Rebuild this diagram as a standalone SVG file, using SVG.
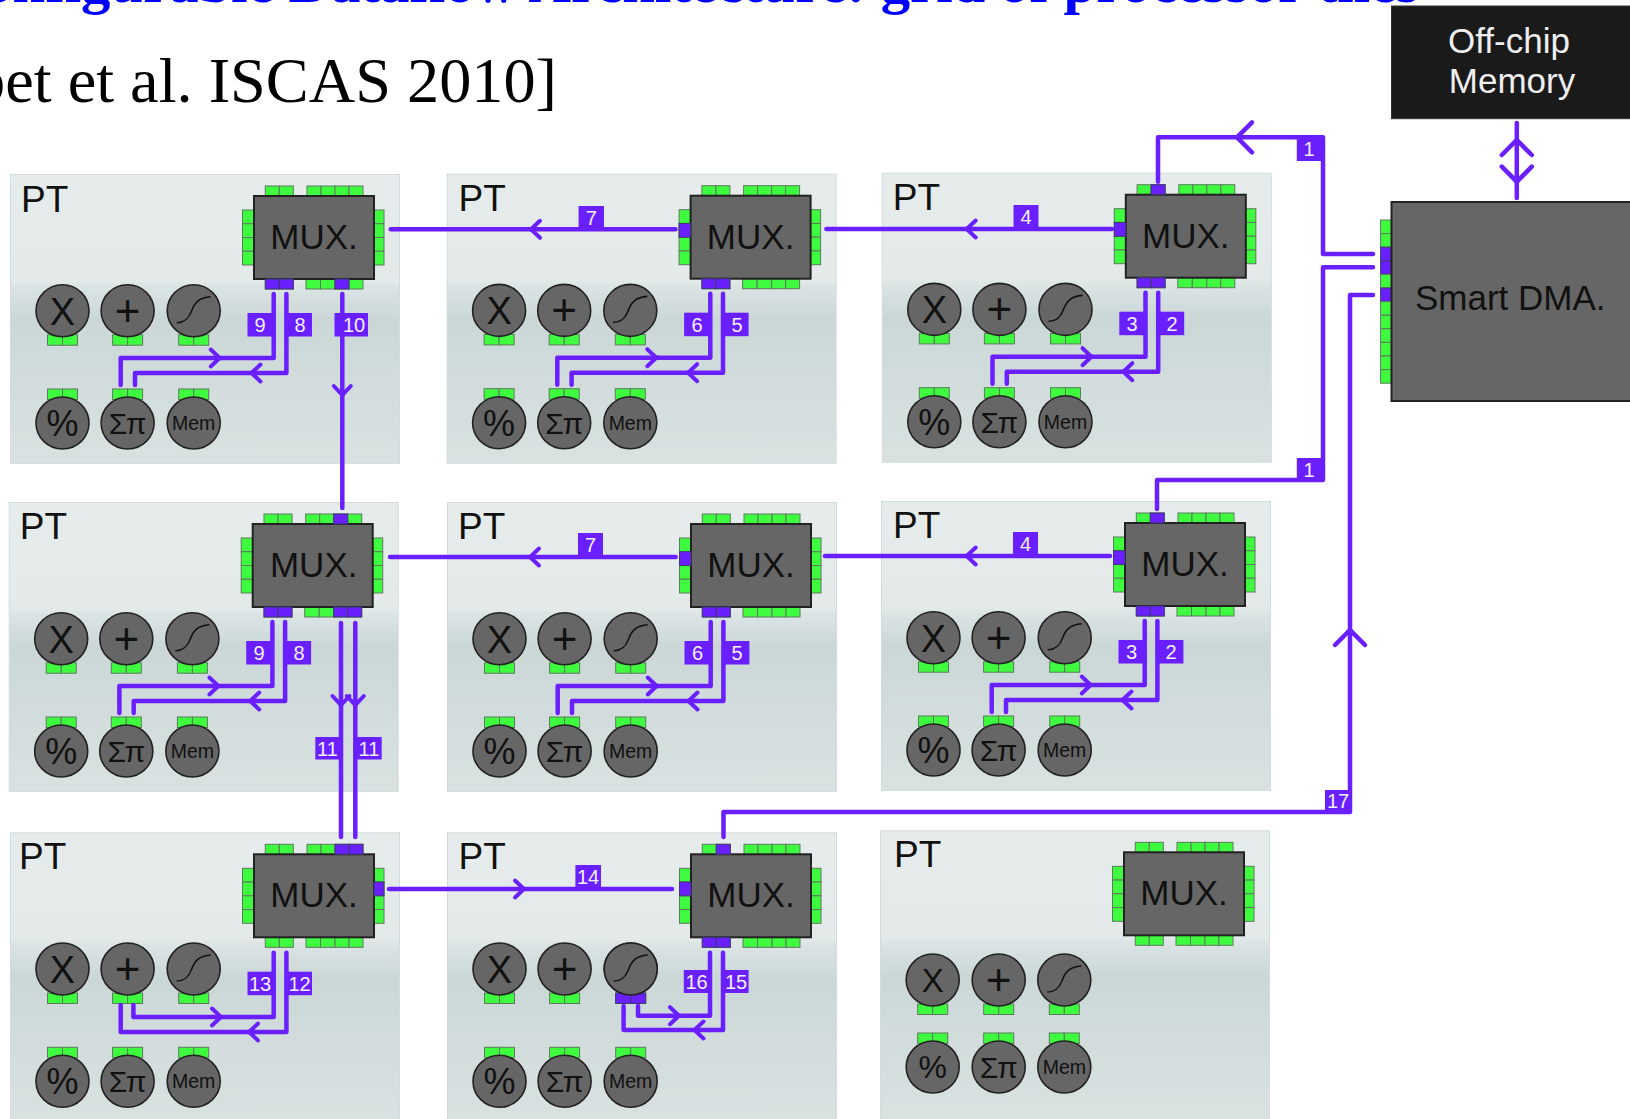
<svg xmlns="http://www.w3.org/2000/svg" width="1630" height="1119" viewBox="0 0 1630 1119">
<style>
text{font-family:"Liberation Sans",Arial,sans-serif}
.ttl{font-family:"Liberation Serif","Times New Roman",serif}
.panel{fill:url(#pg);stroke:#d3dcdc;stroke-width:1}
.block{fill:#666;stroke:#222;stroke-width:2}
.g{fill:#3ffb3f;stroke:#5c7a5c;stroke-width:1}
.p{fill:#6a1fff;stroke:#3d3a6e;stroke-width:1}
.op{fill:#666;stroke:#222;stroke-width:1.6}
.sig{fill:none;stroke:#111;stroke-width:1.6}
.c{text-anchor:middle;fill:#111}
.pt{font-size:37px;fill:#111}
.mx{font-size:35px;text-anchor:middle;fill:#111}
.o{font-size:38px}
.pc{font-size:36px}
.pl{font-size:44px}
.sg{font-size:30px}
.me{font-size:19.5px}
.w{fill:none;stroke:#6a1fff;stroke-width:4.5;stroke-linecap:round;stroke-linejoin:round}
.a{marker-end:url(#chev)}
.b{marker-end:url(#chevbig)}
.lb{fill:#6a1fff}
.lt{font-size:20px;fill:#f4f0ff;text-anchor:middle}
</style>
<defs>
<linearGradient id="pg" x1="0" y1="0" x2="0" y2="1">
<stop offset="0" stop-color="#e6ecec"/><stop offset="0.37" stop-color="#e4eaea"/><stop offset="0.38" stop-color="#dde5e5"/><stop offset="0.5" stop-color="#cbd7d7"/><stop offset="1" stop-color="#d9e2e1"/>
</linearGradient>
<marker id="chev" viewBox="-14 -12 17 24" refX="0" refY="0" markerWidth="17" markerHeight="24" orient="auto" markerUnits="userSpaceOnUse"><path d="M-9 -8.5L0 0L-9 8.5" fill="none" stroke="#6a1fff" stroke-width="4" stroke-linecap="round"/></marker>
<marker id="chevbig" viewBox="-20 -20 24 40" refX="0" refY="0" markerWidth="24" markerHeight="40" orient="auto" markerUnits="userSpaceOnUse"><path d="M-15 -15L0 0L-15 15" fill="none" stroke="#6a1fff" stroke-width="4.5" stroke-linecap="round"/></marker>
<g id="frame">
<rect class="panel" x="-243.5" y="-21.5" width="389" height="289"/>
<rect class="g" x="11.3" y="-10" width="14" height="10"/><rect class="g" x="25.3" y="-10" width="14" height="10"/>
<rect class="g" x="53" y="-10" width="14" height="10"/><rect class="g" x="67" y="-10" width="14" height="10"/><rect class="g" x="81" y="-10" width="14" height="10"/><rect class="g" x="95" y="-10" width="14" height="10"/>
<rect class="g" x="11.3" y="83" width="14" height="10"/><rect class="g" x="25.3" y="83" width="14" height="10"/>
<rect class="g" x="52" y="83" width="14.5" height="10"/><rect class="g" x="66.5" y="83" width="14.5" height="10"/><rect class="g" x="81" y="83" width="14" height="10"/><rect class="g" x="95" y="83" width="14" height="10"/>
<rect class="g" x="-11.5" y="14" width="11.5" height="13.75"/><rect class="g" x="-11.5" y="27.75" width="11.5" height="13.75"/><rect class="g" x="-11.5" y="41.5" width="11.5" height="13.75"/><rect class="g" x="-11.5" y="55.25" width="11.5" height="13.75"/>
<rect class="g" x="120" y="14" width="10" height="13.75"/><rect class="g" x="120" y="27.75" width="10" height="13.75"/><rect class="g" x="120" y="41.5" width="10" height="13.75"/><rect class="g" x="120" y="55.25" width="10" height="13.75"/>
<rect class="block" x="0" y="0" width="120" height="83"/>
</g>
<g id="uu"><rect class="g" x="-15" y="24" width="15" height="10.5"/><rect class="g" x="0" y="24" width="15" height="10.5"/><ellipse class="op" rx="26.5" ry="26"/></g>
<g id="ud"><rect class="g" x="-15" y="-34" width="15" height="10.5"/><rect class="g" x="0" y="-34" width="15" height="10.5"/><ellipse class="op" rx="26.5" ry="26"/></g>
<path id="sg" class="sig" d="M-17 12C-9 12-5 8-2 0C1-8 5-13 17-14"/>
</defs>

<g id="heading">
<text class="ttl" x="1419" y="2" font-size="58.8" font-weight="700" fill="#0000ff" text-anchor="end">onfigurable Dataflow Architecture: grid of processor tiles</text>
<text class="ttl" x="557" y="101.7" font-size="64.3" fill="#000" text-anchor="end">bet et al. ISCAS 2010]</text>
</g>

<g id="pt-r1c1" transform="translate(254 196)">
<use href="#frame"/>
<use href="#uu" x="-191.5" y="114.7"/><use href="#uu" x="-126.4" y="114.7"/><use href="#uu" x="-60.3" y="114.7"/><use href="#ud" x="-191.5" y="227"/><use href="#ud" x="-126.4" y="227"/><use href="#ud" x="-60.3" y="227"/>
<use href="#sg" x="-60.3" y="114.7"/>
<rect class="p" x="11.3" y="83" width="14" height="10"/><rect class="p" x="25.3" y="83" width="14" height="10"/><rect class="p" x="81" y="83" width="14" height="10"/>
<text class="pt" x="-233" y="15.7">PT</text><text class="mx" x="60" y="53">MUX.</text>
<text class="c o" x="-191.5" y="128.5">X</text><text class="c pl" x="-126.4" y="129.5">+</text><text class="c pc" x="-191.5" y="240">%</text><text class="c sg" x="-126.4" y="238">Σπ</text><text class="c me" x="-60.3" y="234">Mem</text>
</g>
<g id="pt-r1c2" transform="translate(690.6 195.7)">
<use href="#frame"/>
<use href="#uu" x="-191.5" y="114.7"/><use href="#uu" x="-126.4" y="114.7"/><use href="#uu" x="-60.3" y="114.7"/><use href="#ud" x="-191.5" y="227"/><use href="#ud" x="-126.4" y="227"/><use href="#ud" x="-60.3" y="227"/>
<use href="#sg" x="-60.3" y="114.7"/>
<rect class="p" x="11.3" y="83" width="14" height="10"/><rect class="p" x="25.3" y="83" width="14" height="10"/><rect class="p" x="-11.5" y="27.75" width="11.5" height="13.75"/>
<text class="pt" x="-232" y="15.7">PT</text><text class="mx" x="60" y="53">MUX.</text>
<text class="c o" x="-191.5" y="128.5">X</text><text class="c pl" x="-126.4" y="129.5">+</text><text class="c pc" x="-191.5" y="240">%</text><text class="c sg" x="-126.4" y="238">Σπ</text><text class="c me" x="-60.3" y="234">Mem</text>
</g>
<g id="pt-r1c3" transform="translate(1125.8 194.7)">
<use href="#frame"/>
<use href="#uu" x="-191.5" y="114.7"/><use href="#uu" x="-126.4" y="114.7"/><use href="#uu" x="-60.3" y="114.7"/><use href="#ud" x="-191.5" y="227"/><use href="#ud" x="-126.4" y="227"/><use href="#ud" x="-60.3" y="227"/>
<use href="#sg" x="-60.3" y="114.7"/>
<rect class="p" x="11.3" y="83" width="14" height="10"/><rect class="p" x="25.3" y="83" width="14" height="10"/><rect class="p" x="-11.5" y="27.75" width="11.5" height="13.75"/><rect class="p" x="25.3" y="-10" width="14" height="10"/>
<text class="pt" x="-233" y="15.7">PT</text><text class="mx" x="60" y="53">MUX.</text>
<text class="c o" x="-191.5" y="128.5">X</text><text class="c pl" x="-126.4" y="129.5">+</text><text class="c pc" x="-191.5" y="240">%</text><text class="c sg" x="-126.4" y="238">Σπ</text><text class="c me" x="-60.3" y="234">Mem</text>
</g>

<g id="pt-r2c1" transform="translate(252.7 524)">
<use href="#frame"/>
<use href="#uu" x="-191.5" y="114.7"/><use href="#uu" x="-126.4" y="114.7"/><use href="#uu" x="-60.3" y="114.7"/><use href="#ud" x="-191.5" y="227"/><use href="#ud" x="-126.4" y="227"/><use href="#ud" x="-60.3" y="227"/>
<use href="#sg" x="-60.3" y="114.7"/>
<rect class="p" x="11.3" y="83" width="14" height="10"/><rect class="p" x="25.3" y="83" width="14" height="10"/><rect class="p" x="81" y="83" width="14" height="10"/><rect class="p" x="95" y="83" width="14" height="10"/><rect class="p" x="81" y="-10" width="14" height="10"/>
<text class="pt" x="-233" y="14.7">PT</text><text class="mx" x="61" y="53">MUX.</text>
<text class="c o" x="-191.5" y="128.5">X</text><text class="c pl" x="-126.4" y="129.5">+</text><text class="c pc" x="-191.5" y="240">%</text><text class="c sg" x="-126.4" y="238">Σπ</text><text class="c me" x="-60.3" y="234">Mem</text>
</g>
<g id="pt-r2c2" transform="translate(691 524)">
<use href="#frame"/>
<use href="#uu" x="-191.5" y="114.7"/><use href="#uu" x="-126.4" y="114.7"/><use href="#uu" x="-60.3" y="114.7"/><use href="#ud" x="-191.5" y="227"/><use href="#ud" x="-126.4" y="227"/><use href="#ud" x="-60.3" y="227"/>
<use href="#sg" x="-60.3" y="114.7"/>
<rect class="p" x="11.3" y="83" width="14" height="10"/><rect class="p" x="25.3" y="83" width="14" height="10"/><rect class="p" x="-11.5" y="27.75" width="11.5" height="13.75"/>
<text class="pt" x="-233" y="14.7">PT</text><text class="mx" x="60" y="53">MUX.</text>
<text class="c o" x="-191.5" y="128.5">X</text><text class="c pl" x="-126.4" y="129.5">+</text><text class="c pc" x="-191.5" y="240">%</text><text class="c sg" x="-126.4" y="238">Σπ</text><text class="c me" x="-60.3" y="234">Mem</text>
</g>
<g id="pt-r2c3" transform="translate(1125 523)">
<use href="#frame"/>
<use href="#uu" x="-191.5" y="114.7"/><use href="#uu" x="-126.4" y="114.7"/><use href="#uu" x="-60.3" y="114.7"/><use href="#ud" x="-191.5" y="227"/><use href="#ud" x="-126.4" y="227"/><use href="#ud" x="-60.3" y="227"/>
<use href="#sg" x="-60.3" y="114.7"/>
<rect class="p" x="11.3" y="83" width="14" height="10"/><rect class="p" x="25.3" y="83" width="14" height="10"/><rect class="p" x="-11.5" y="27.75" width="11.5" height="13.75"/><rect class="p" x="25.3" y="-10" width="14" height="10"/>
<text class="pt" x="-232" y="14.7">PT</text><text class="mx" x="60" y="53">MUX.</text>
<text class="c o" x="-191.5" y="128.5">X</text><text class="c pl" x="-126.4" y="129.5">+</text><text class="c pc" x="-191.5" y="240">%</text><text class="c sg" x="-126.4" y="238">Σπ</text><text class="c me" x="-60.3" y="234">Mem</text>
</g>

<g id="pt-r3c1" transform="translate(254 854.3)">
<use href="#frame"/>
<use href="#uu" x="-191.5" y="114.7"/><use href="#uu" x="-126.4" y="114.7"/><use href="#uu" x="-60.3" y="114.7"/><use href="#ud" x="-191.5" y="227"/><use href="#ud" x="-126.4" y="227"/><use href="#ud" x="-60.3" y="227"/>
<use href="#sg" x="-60.3" y="114.7"/>
<rect class="p" x="81" y="-10" width="14" height="10"/><rect class="p" x="95" y="-10" width="14" height="10"/><rect class="p" x="120" y="27.75" width="10" height="13.75"/>
<text class="pt" x="-235" y="14.7">PT</text><text class="mx" x="60" y="53">MUX.</text>
<text class="c o" x="-191.5" y="128.5">X</text><text class="c pl" x="-126.4" y="129.5">+</text><text class="c pc" x="-191.5" y="240">%</text><text class="c sg" x="-126.4" y="238">Σπ</text><text class="c me" x="-60.3" y="234">Mem</text>
</g>
<g id="pt-r3c2" transform="translate(691 854.3)">
<use href="#frame"/>
<use href="#uu" x="-191.5" y="114.7"/><use href="#uu" x="-126.4" y="114.7"/><use href="#uu" x="-60.3" y="114.7"/><use href="#ud" x="-191.5" y="227"/><use href="#ud" x="-126.4" y="227"/><use href="#ud" x="-60.3" y="227"/>
<rect class="p" x="11.3" y="83" width="14" height="10"/><rect class="p" x="25.3" y="83" width="14" height="10"/><rect class="p" x="-11.5" y="27.75" width="11.5" height="13.75"/><rect class="p" x="25.3" y="-10" width="14" height="10"/>
<rect class="p" x="-75.3" y="138.7" width="15" height="10.5"/><rect class="p" x="-60.3" y="138.7" width="15" height="10.5"/>
<ellipse class="op" cx="-60.3" cy="114.7" rx="26.5" ry="26"/><use href="#sg" x="-60.3" y="114.7"/>
<text class="pt" x="-232.5" y="14.7">PT</text><text class="mx" x="60" y="53">MUX.</text>
<text class="c o" x="-191.5" y="128.5">X</text><text class="c pl" x="-126.4" y="129.5">+</text><text class="c pc" x="-191.5" y="240">%</text><text class="c sg" x="-126.4" y="238">Σπ</text><text class="c me" x="-60.3" y="234">Mem</text>
</g>
<g id="pt-r3c3" transform="translate(1124 852.3)">
<use href="#frame"/>
<use href="#uu" x="-191.3" y="127.7"/><use href="#uu" x="-125.3" y="127.7"/><use href="#uu" x="-59.7" y="127.7"/><use href="#ud" x="-191.3" y="214.7"/><use href="#ud" x="-125.3" y="214.7"/><use href="#ud" x="-59.7" y="214.7"/>
<use href="#sg" x="-59.7" y="127.7"/>
<text class="pt" x="-230" y="15">PT</text><text class="mx" x="60" y="53">MUX.</text>
<text class="c" font-size="33" x="-191.3" y="139.5">X</text><text class="c pl" x="-125.3" y="142.5">+</text><text class="c" font-size="32" x="-191.3" y="226">%</text><text class="c sg" x="-125.3" y="225.7">Σπ</text><text class="c me" x="-59.7" y="221.5">Mem</text>
</g>

<g id="off-chip-memory">
<rect x="1391.5" y="6" width="250" height="112.7" fill="#1a1a1a" stroke="#333"/>
<text x="1509" y="53" font-size="35" fill="#eee" text-anchor="middle">Off-chip</text>
<text x="1512" y="93" font-size="35" fill="#eee" text-anchor="middle">Memory</text>
</g>
<g id="smart-dma">
<rect class="g" x="1380.6" y="220" width="11" height="13.6"/><rect class="g" x="1380.6" y="233.6" width="11" height="13.6"/><rect class="p" x="1380.6" y="247.2" width="11" height="13.6"/><rect class="p" x="1380.6" y="260.8" width="11" height="13.6"/><rect class="g" x="1380.6" y="274.4" width="11" height="13.6"/><rect class="p" x="1380.6" y="288" width="11" height="13.6"/><rect class="g" x="1380.6" y="301.6" width="11" height="13.6"/><rect class="g" x="1380.6" y="315.2" width="11" height="13.6"/><rect class="g" x="1380.6" y="328.8" width="11" height="13.6"/><rect class="g" x="1380.6" y="342.4" width="11" height="13.6"/><rect class="g" x="1380.6" y="356" width="11" height="13.6"/><rect class="g" x="1380.6" y="369.6" width="11" height="13.6"/>
<rect class="block" x="1391.5" y="202" width="250" height="199"/>
<text x="1415" y="310" font-size="35" fill="#111">Smart DMA.</text>
</g>

<g id="connectors">
<path class="w" d="M273.7 294V358H120.7V385"/><path class="w" d="M286.4 294V373H135V385"/>
<path class="w a" d="M218 358H219.7"/><path class="w a" d="M253 373H251.5"/>
<path class="w" d="M710.3 293.7V357.7H557.3V384.7"/><path class="w" d="M723 293.7V372.7H571.6V384.7"/>
<path class="w a" d="M654 357.7H656.3"/><path class="w a" d="M690 372.7H688.1"/>
<path class="w" d="M1145.5 292.7V356.7H992.5V383.7"/><path class="w" d="M1158.2 292.7V371.7H1006.8V383.7"/>
<path class="w a" d="M1090 356.7H1091.5"/><path class="w a" d="M1125 371.7H1123.3"/>
<path class="w" d="M272.4 622V686H119.4V713"/><path class="w" d="M285.1 622V701H133.7V713"/>
<path class="w a" d="M217 686H218.4"/><path class="w a" d="M252 701H250.2"/>
<path class="w" d="M710.7 622V686H557.7V713"/><path class="w" d="M723.4 622V701H572V713"/>
<path class="w a" d="M655 686H656.7"/><path class="w a" d="M690 701H688.5"/>
<path class="w" d="M1144.7 621V685H991.7V712"/><path class="w" d="M1157.4 621V700H1006V712"/>
<path class="w a" d="M1089 685H1090.7"/><path class="w a" d="M1124 700H1122.5"/>
<path class="w" d="M273.7 952.7V1017H133.4V1005"/><path class="w" d="M286.4 952.7V1032H120.7V1005"/>
<path class="w a" d="M219 1017H221"/><path class="w a" d="M251 1032H249"/>
<path class="w" d="M710 952.7V1015.7H638V1006"/><path class="w" d="M723 952.7V1030H623.6V1006"/>
<path class="w a" d="M677 1015.7H679"/><path class="w a" d="M696 1030H694.5"/>
<path class="w" d="M342.3 294V508"/><path class="w a" d="M342.3 393V395"/>
<path class="w" d="M341 623V837"/><path class="w" d="M355.3 623V837"/>
<path class="w a" d="M341 703V705"/><path class="w a" d="M355.3 703V705"/>
<path class="w" d="M390.7 229.3H675.5"/><path class="w a" d="M533 229.3H531"/>
<path class="w" d="M826.4 229H1112"/><path class="w a" d="M969 229H966.7"/>
<path class="w" d="M390 557H675.7"/><path class="w a" d="M532 557H530"/>
<path class="w" d="M825 556H1110"/><path class="w a" d="M969 556H966.7"/>
<path class="w" d="M389 889H672"/><path class="w a" d="M522 889H524"/>
<path class="w" d="M1158 181.7V137.3H1323V254H1373"/><path class="w b" d="M1240 137.3H1237"/>
<path class="w" d="M1373 267.3H1323V480H1157V509"/>
<path class="w" d="M1373 295H1350V812H723.5V837"/><path class="w b" d="M1350 633V630"/>
<path class="w" d="M1516.8 123V198"/><path class="w b" d="M1516.8 143V140"/><path class="w b" d="M1516.8 179V181.7"/>
<g id="labels">
<rect class="lb" x="247.5" y="313" width="26.2" height="23.5"/><text class="lt" x="260" y="332">9</text>
<rect class="lb" x="286.4" y="313" width="25.6" height="23.5"/><text class="lt" x="300" y="332">8</text>
<rect class="lb" x="334.5" y="313" width="33.5" height="23.5"/><text class="lt" x="354" y="332" font-size="18">10</text>
<rect class="lb" x="578.6" y="206" width="25.4" height="23.5"/><text class="lt" x="591.3" y="225">7</text>
<rect class="lb" x="684.1" y="312.7" width="26.2" height="23.5"/><text class="lt" x="697" y="331.7">6</text>
<rect class="lb" x="723" y="312.7" width="25.6" height="23.5"/><text class="lt" x="737" y="331.7">5</text>
<rect class="lb" x="1013.5" y="205" width="25" height="24"/><text class="lt" x="1026" y="224">4</text>
<rect class="lb" x="1119.3" y="311.7" width="26.2" height="23.5"/><text class="lt" x="1132" y="330.7">3</text>
<rect class="lb" x="1158.2" y="311.7" width="26" height="23.5"/><text class="lt" x="1172" y="330.7">2</text>
<rect class="lb" x="1296.8" y="137" width="27" height="24"/><text class="lt" x="1309" y="156">1</text>
<rect class="lb" x="1296.8" y="458" width="27" height="23"/><text class="lt" x="1309" y="477">1</text>
<rect class="lb" x="246.2" y="641" width="26.2" height="23.5"/><text class="lt" x="259" y="660">9</text>
<rect class="lb" x="285.1" y="641" width="26" height="23.5"/><text class="lt" x="299" y="660">8</text>
<rect class="lb" x="578" y="533" width="25" height="24"/><text class="lt" x="590.5" y="552">7</text>
<rect class="lb" x="684.5" y="641" width="26.2" height="23.5"/><text class="lt" x="697.5" y="660">6</text>
<rect class="lb" x="723.4" y="641" width="26" height="23.5"/><text class="lt" x="737" y="660">5</text>
<rect class="lb" x="1013" y="532" width="25" height="24"/><text class="lt" x="1025.5" y="551">4</text>
<rect class="lb" x="1118.5" y="640" width="26.2" height="23.5"/><text class="lt" x="1131.5" y="659">3</text>
<rect class="lb" x="1157.4" y="640" width="26" height="23.5"/><text class="lt" x="1171" y="659">2</text>
<rect class="lb" x="315.3" y="737" width="25.7" height="22.5"/><text class="lt" x="327.5" y="755.5">11</text>
<rect class="lb" x="355.3" y="737" width="26.4" height="22.5"/><text class="lt" x="369" y="755.5">11</text>
<rect class="lb" x="247.5" y="971.7" width="26.2" height="23.5"/><text class="lt" x="260" y="990.5">13</text>
<rect class="lb" x="286.4" y="971.7" width="25.6" height="23.5"/><text class="lt" x="299.5" y="990.5">12</text>
<rect class="lb" x="575.4" y="865" width="25.6" height="24"/><text class="lt" x="588" y="884">14</text>
<rect class="lb" x="683.8" y="970" width="26.2" height="23"/><text class="lt" x="696.5" y="988.5">16</text>
<rect class="lb" x="723" y="970" width="25.6" height="23"/><text class="lt" x="736" y="988.5">15</text>
<rect class="lb" x="1325" y="790" width="27" height="22"/><text class="lt" x="1338" y="808">17</text>
</g>
</g>
</svg>
